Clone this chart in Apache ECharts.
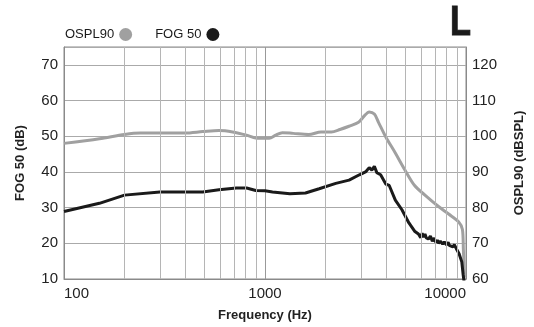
<!DOCTYPE html>
<html>
<head>
<meta charset="utf-8">
<script src="https://cdn.jsdelivr.net/npm/echarts@6/dist/echarts.min.js"></script>
<style>
html,body{margin:0;padding:0;background:#fff;}
#chart{width:534px;height:327px;}
</style>
</head>
<body>
<div id="chart"></div>
<script>
// Frequency axis ticks
const xTicks = [100, 1000, 10000];
const minorFreqs = [200,300,400,500,600,700,800,900,2000,3000,4000,5000,6000,7000,8000,9000];
const leftTicks = [10, 20, 30, 40, 50, 60, 70];
const rightTicks = [60, 70, 80, 90, 100, 110, 120];

// OSPL90 (dBSPL) – right axis
const osplFreq = [100,150,200,240,300,400,490,590,690,810,900,1000,1050,1130,1220,1380,1650,1900,2140,2360,2620,2920,3120,3300,3500,3670,3990,4450,4950,5550,6250,7300,8200,9200,9600,9700,9820];
const osplVals = [98.0,99.3,100.5,100.9,100.9,100.9,101.3,101.6,101.2,100.3,99.5,99.4,99.4,100.3,101.0,100.8,100.5,101.2,101.2,101.9,102.8,103.9,105.7,106.8,106.2,103.9,99.8,95.3,90.7,86.2,83.5,80.3,78.2,76.0,73.9,68.5,60.5];

// FOG 50 (dB) – left axis
const fogFreq = [100,150,200,300,400,490,590,720,810,900,1000,1090,1330,1590,1860,2250,2620,2950,3180,3300,3400,3500,3600,3760,3990,4150,4450,4800,5200,5550,5800,5950,6050,6150,6250,6350,6500,6650,6800,6950,7070,7200,7300,7450,7650,7800,8000,8150,8260,8450,8600,8750,8950,9100,9240,9400,9530,9680,9850];
const fogVals = [28.9,31.2,33.5,34.4,34.4,34.4,35.0,35.5,35.5,34.8,34.7,34.4,33.9,34.1,35.3,36.8,37.7,39.2,40.1,41.2,40.5,41.6,39.8,39.2,36.6,36.2,32.1,29.4,25.7,23.4,22.6,21.6,22.8,21.7,22.6,21.5,21.2,22.0,20.6,21.5,20.3,20.9,20.0,20.6,19.8,20.4,19.6,20.3,19.4,19.9,19.0,19.6,18.5,18.9,17.1,16.6,14.8,11.2,8.0];

const chart = echarts.init(document.getElementById('chart'));
const FONT = 'Liberation Sans, Arial, Helvetica, sans-serif';

chart.setOption({
  animation: false,
  backgroundColor: '#ffffff',
  textStyle: { fontFamily: FONT },
  grid: { left: 64, right: 67, top: 47, bottom: 43, show: true, borderColor: '#8a8a8a', borderWidth: 1, containLabel: false },
  legend: {
    left: 60, top: 23, align: 'right', itemGap: 23, itemWidth: 13, itemHeight: 13,
    icon: 'circle',
    textStyle: { fontSize: 13, color: '#1a1a1a', fontFamily: FONT },
    data: ['OSPL90', 'FOG 50']
  },
  graphic: [{
    type: 'text', x: 450, y: 2, scaleX: 0.8,
    style: { text: 'L', font: 'bold 43px ' + FONT, fill: '#1a1a1a', stroke: '#1a1a1a', lineWidth: 1 }
  }],
  xAxis: {
    type: 'log', logBase: 10, min: xTicks[0], max: xTicks[xTicks.length - 1],
    name: 'Frequency (Hz)', nameLocation: 'middle', nameGap: 30,
    nameTextStyle: { fontSize: 13, fontWeight: 'bold', color: '#222' },
    axisLine: { show: true, lineStyle: { color: '#8a8a8a' } },
    axisTick: { show: false },
    axisLabel: {
      fontSize: 15, color: '#222', margin: 7,
      alignMinLabel: 'left', alignMaxLabel: 'right',
      formatter: v => String(Math.round(v))
    },
    splitLine: { show: true, lineStyle: { color: '#999', width: 1 } }
  },
  yAxis: [{
    type: 'value', min: leftTicks[0], max: 75, interval: 10,
    name: 'FOG 50 (dB)', nameLocation: 'middle', nameGap: 37, nameRotate: 90,
    nameTextStyle: { fontSize: 13, fontWeight: 'bold', color: '#222' },
    axisLine: { show: true, lineStyle: { color: '#8a8a8a' } },
    axisTick: { show: false },
    axisLabel: { fontSize: 15, color: '#222', margin: 6, showMaxLabel: false,
      formatter: v => leftTicks.includes(v) ? String(v) : '' },
    splitLine: { show: true, lineStyle: { color: '#aaa', width: 1 } }
  }, {
    type: 'value', min: rightTicks[0], max: 125, interval: 10, position: 'right',
    name: 'OSPL90 (dBSPL)', nameLocation: 'middle', nameGap: 47, nameRotate: 90,
    nameTextStyle: { fontSize: 13, fontWeight: 'bold', color: '#222' },
    axisLine: { show: true, lineStyle: { color: '#8a8a8a' } },
    axisTick: { show: false },
    axisLabel: { fontSize: 15, color: '#222', margin: 6, showMaxLabel: false,
      formatter: v => rightTicks.includes(v) ? String(v) : '' },
    splitLine: { show: false }
  }],
  series: [
    {
      name: 'minor', type: 'line', data: [], z: 1, silent: true,
      markLine: {
        silent: true, symbol: 'none', label: { show: false },
        lineStyle: { color: '#b5b5b5', width: 1, type: 'solid' },
        data: minorFreqs.map(f => ({ xAxis: f }))
      }
    },
    {
      name: 'OSPL90', type: 'line', yAxisIndex: 1, showSymbol: false, smooth: 0.3, clip: true,
      itemStyle: { color: '#a0a0a0' },
      lineStyle: { color: '#a0a0a0', width: 3 },
      data: osplFreq.map((f, i) => [f, osplVals[i]]), z: 3
    },
    {
      name: 'FOG 50', type: 'line', yAxisIndex: 0, showSymbol: false, clip: true,
      itemStyle: { color: '#1a1a1a' },
      lineStyle: { color: '#1a1a1a', width: 3 },
      data: fogFreq.map((f, i) => [f, fogVals[i]]), z: 4
    }
  ]
});
</script>
</body>
</html>
